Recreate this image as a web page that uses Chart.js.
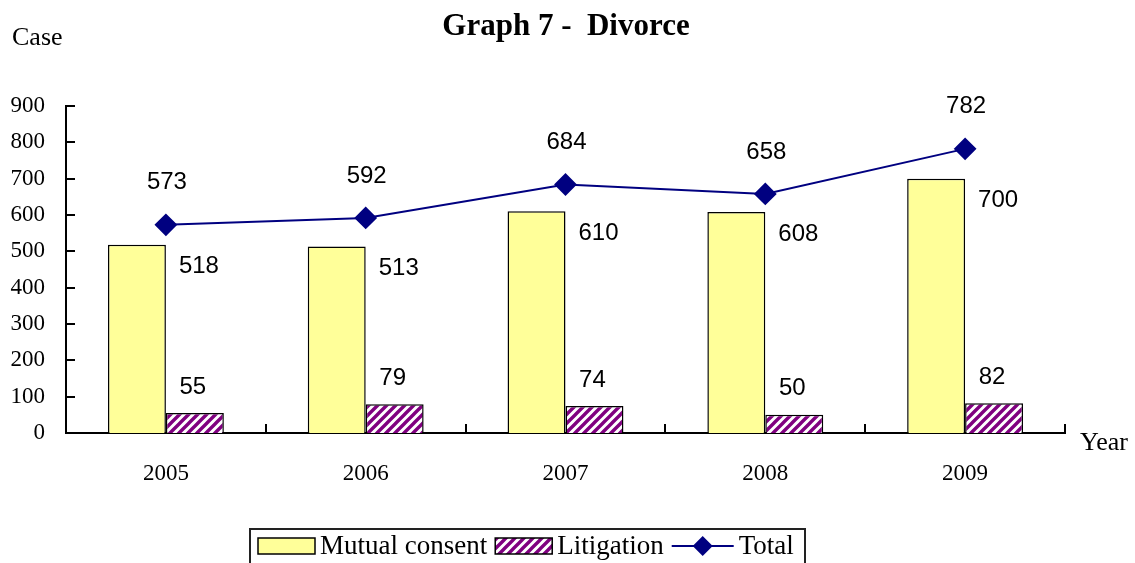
<!DOCTYPE html>
<html>
<head>
<meta charset="utf-8">
<script src="https://cdn.jsdelivr.net/npm/chart.js@4.4.0/dist/chart.umd.min.js"></script>
<style>
  body { margin: 0; background: #fff; }
  #wrap { width: 1135px; height: 563px; position: relative; }
</style>
</head>
<body>
<div id="wrap"><canvas id="divorceChart"></canvas></div>
<script>
var years = ["2005", "2006", "2007", "2008", "2009"];
var mutualConsent = [518, 513, 610, 608, 700];
var litigation = [55, 79, 74, 50, 82];
var totalCases = [573, 592, 684, 658, 782];
var yTicks = [0, 100, 200, 300, 400, 500, 600, 700, 800, 900];

// hatch for litigation bars
function makeHatch() {
  var c = document.createElement("canvas");
  c.width = 9; c.height = 9;
  var g = c.getContext("2d");
  g.fillStyle = "#fff";
  g.fillRect(0, 0, 9, 9);
  g.strokeStyle = "#800080";
  g.lineWidth = 3.4;
  g.beginPath();
  g.moveTo(-2, 11); g.lineTo(11, -2);
  g.moveTo(-2, 2); g.lineTo(2, -2);
  g.moveTo(7, 11); g.lineTo(11, 7);
  g.stroke();
  return g.createPattern(c, "repeat");
}
var hatch = makeHatch();

var serif = "'Liberation Serif', 'Times New Roman', serif";
var sans = "'Liberation Sans', Arial, sans-serif";

var extras = {
  id: "extras",
  afterDatasetsDraw: function(chart) {
    var ctx = chart.ctx;
    ctx.save();
    ctx.fillStyle = "#000";
    ctx.font = "24px " + sans;
    ctx.textAlign = "center";
    ctx.textBaseline = "middle";
    chart.data.datasets.forEach(function(ds, i) {
      var meta = chart.getDatasetMeta(i);
      meta.data.forEach(function(el, j) {
        var txt = String(ds.data[j]);
        if (i === 0) ctx.fillText(txt, el.x + 62, el.y + 22);
        else if (i === 1) ctx.fillText(txt, el.x - 2, el.y - 26);
        else ctx.fillText(txt, el.x + 1, el.y - 42);
      });
    });
    ctx.restore();
  },
  afterDraw: function(chart) {
    var ctx = chart.ctx;
    var area = chart.chartArea;
    var y = chart.scales.y;
    ctx.save();
    ctx.strokeStyle = "#000";
    ctx.lineWidth = 2;
    ctx.beginPath();
    yTicks.forEach(function(v) {
      var py = Math.round(y.getPixelForValue(v));
      ctx.moveTo(area.left, py); ctx.lineTo(area.left + 9, py);
    });
    var cw = (area.right - area.left) / years.length;
    for (var k = 1; k <= years.length; k++) {
      var px = Math.round(area.left + k * cw);
      ctx.moveTo(px, area.bottom); ctx.lineTo(px, area.bottom - 9);
    }
    ctx.stroke();

    // title and axis captions
    ctx.fillStyle = "#000";
    ctx.textBaseline = "alphabetic";
    ctx.textAlign = "center";
    ctx.font = "bold 31px " + serif;
    ctx.fillText("Graph 7 -  Divorce", 566, 35);
    ctx.textAlign = "left";
    ctx.font = "26px " + serif;
    ctx.fillText("Case", 12, 45);
    ctx.fillText("Year", 1080, 450);

    // legend box
    ctx.lineWidth = 2;
    ctx.strokeStyle = "#222";
    ctx.strokeRect(250, 529, 555, 45);
    ctx.font = "27px " + serif;
    ctx.textBaseline = "middle";
    var lx = 258, ly = 546;
    chart.data.datasets.forEach(function(ds, i) {
      if (ds.type === "line") {
        ctx.strokeStyle = ds.borderColor;
        ctx.lineWidth = 2;
        ctx.beginPath();
        ctx.moveTo(lx, ly); ctx.lineTo(lx + 62, ly);
        ctx.stroke();
        ctx.fillStyle = ds.pointBackgroundColor;
        ctx.beginPath();
        ctx.moveTo(lx + 31, ly - 10); ctx.lineTo(lx + 41, ly);
        ctx.lineTo(lx + 31, ly + 10); ctx.lineTo(lx + 21, ly);
        ctx.closePath(); ctx.fill();
        lx += 67;
      } else {
        ctx.fillStyle = ds.backgroundColor;
        ctx.fillRect(lx, ly - 8, 57, 16);
        ctx.strokeStyle = "#000";
        ctx.lineWidth = 1.5;
        ctx.strokeRect(lx, ly - 8, 57, 16);
        lx += 62;
      }
      ctx.fillStyle = "#000";
      ctx.fillText(ds.label, lx, ly + 1);
      lx += ctx.measureText(ds.label).width + 8;
    });
    ctx.restore();
  }
};

new Chart(document.getElementById("divorceChart"), {
  data: {
    labels: years,
    datasets: [
      {
        type: "bar",
        label: "Mutual consent",
        data: mutualConsent,
        backgroundColor: "#ffff99",
        borderColor: "#000",
        borderWidth: 1.5,
        order: 2
      },
      {
        type: "bar",
        label: "Litigation",
        data: litigation,
        backgroundColor: hatch,
        borderColor: "#000",
        borderWidth: 1.5,
        order: 2
      },
      {
        type: "line",
        label: "Total",
        data: totalCases,
        borderColor: "#000080",
        borderWidth: 2,
        pointStyle: "rectRot",
        pointRadius: 10,
        pointHoverRadius: 10,
        pointBackgroundColor: "#000080",
        pointBorderColor: "#000080",
        tension: 0,
        order: 1
      }
    ]
  },
  options: {
    responsive: true,
    maintainAspectRatio: false,
    animation: false,
    layout: { padding: { top: 106, right: 70, left: 0, bottom: 0 } },
    datasets: { bar: { categoryPercentage: 0.58, barPercentage: 1 } },
    plugins: { legend: { display: false }, tooltip: { enabled: false } },
    scales: {
      x: {
        grid: { display: false, drawTicks: false },
        border: { display: true, color: "#000", width: 2 },
        ticks: { color: "#000", font: { family: serif, size: 23 }, padding: 27 },
        afterFit: function(s) { s.height = 130; }
      },
      y: {
        min: 0,
        max: 900,
        grid: { display: false, drawTicks: false },
        border: { display: true, color: "#000", width: 2 },
        ticks: { stepSize: 100, color: "#000", font: { family: serif, size: 23 }, padding: 21 },
        afterFit: function(s) { s.width = 66; }
      }
    }
  },
  plugins: [extras]
});
</script>
</body>
</html>
